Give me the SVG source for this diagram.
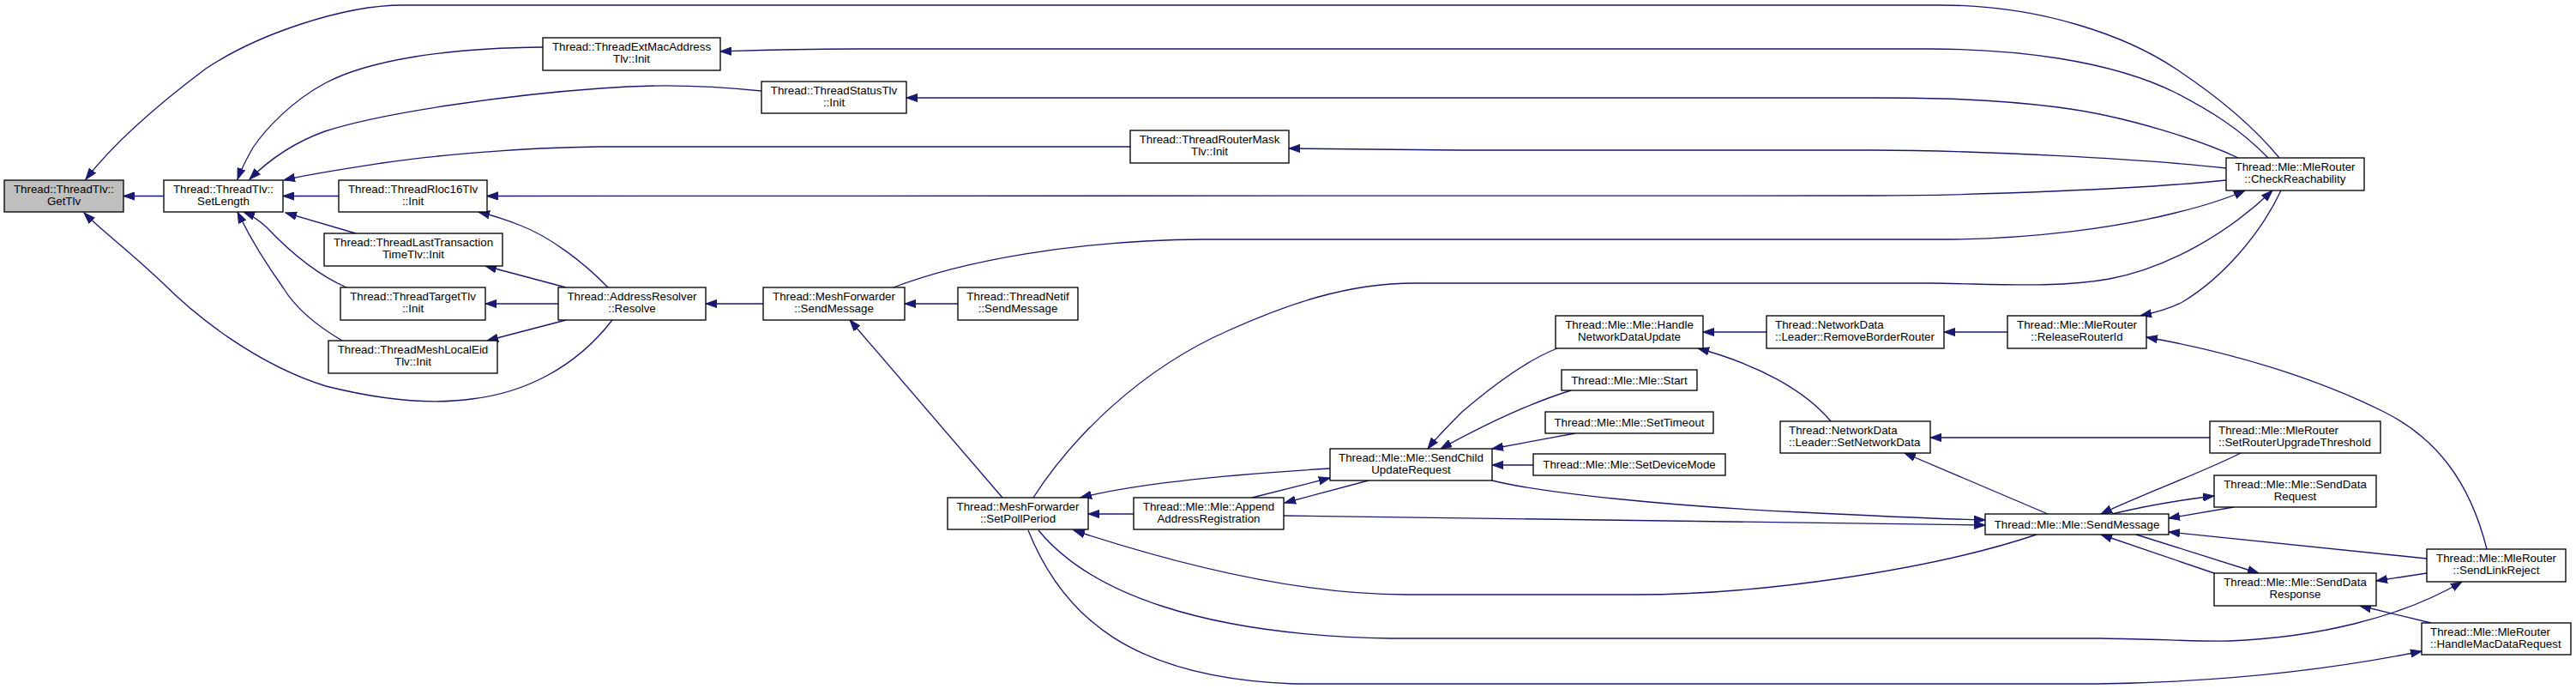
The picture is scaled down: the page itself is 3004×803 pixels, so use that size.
<svg xmlns="http://www.w3.org/2000/svg" width="3004" height="803" viewBox="0 0 3004 803">
<defs>
<style>
.n rect{fill:#fff;stroke:#000;stroke-width:1.33}
.n text{font-family:"Liberation Sans",Arial,Helvetica,sans-serif;font-size:13.33px;fill:#000}
.c{text-anchor:middle}
.l{text-anchor:start}
.e path{fill:none;stroke:#191970;stroke-width:1.33;marker-end:url(#a)}
</style>
<marker id="a" markerUnits="userSpaceOnUse" markerWidth="14" markerHeight="10" refX="13" refY="5" orient="auto" viewBox="0 0 14 10">
<path d="M0,0.4 L13,5 L0,9.6 z" fill="#191970" stroke="#191970" stroke-width="1"/>
</marker>
</defs>
<rect x="0" y="0" width="3004" height="803" fill="#fff"/>
<g id="edges" class="e">
<path d="M191,228.5 L144,228.5"/>
<path d="M2658,184 C2630,150 2590,115 2537,80 C2480,42 2380,6 2263,6 L470,6 C400,6 300,40 240,80 C180,125 130,170 100,209"/>
<path d="M714,373 C670,430 610,458 550,465 C500,472 440,465 380,450 C300,425 230,370 190,330 C150,292 120,270 98,248"/>
<path d="M633,55 C520,56 430,70 379,97 C340,118 310,150 295,172 C287,186 281,198 277,209"/>
<path d="M888,106 C830,100 760,98 700,103 C600,110 450,130 379,153 C340,167 310,190 291,209"/>
<path d="M1318,171 L700,171 C600,172 500,182 446,190 C400,197 360,203 331,210"/>
<path d="M395,228.5 L330,228.5"/>
<path d="M415,272 L333,248"/>
<path d="M404,335 C365,318 330,285 311,265 C300,255 292,250 284,247"/>
<path d="M399,397 C370,380 345,360 330,335 C305,300 288,270 277,247"/>
<path d="M2645,184 C2610,148 2575,128 2537,108 C2460,70 2350,57 2250,57 L1000,57 C920,57 870,59 840,60"/>
<path d="M2610,184 C2570,165 2480,135 2400,125 C2320,115 2250,114 2184,114 L1057,114"/>
<path d="M2596,196 C2500,185 2300,175 2184,175 L1700,175 C1600,174 1550,173 1503,173"/>
<path d="M2596,210 C2500,220 2300,228 2184,228 L568,228.5"/>
<path d="M709,335 C680,305 640,275 605,262 C585,254 570,250 558,247"/>
<path d="M660,335 L566,310"/>
<path d="M651,354 L566,354"/>
<path d="M660,373 L568,397"/>
<path d="M890,354 L823,354"/>
<path d="M1117,354 L1055,354"/>
<path d="M1169,580 L991,373"/>
<path d="M1042,335 C1120,305 1250,280 1404,279 L2263,279 C2370,279 2470,265 2537,248 C2570,240 2600,230 2618,222"/>
<path d="M1205,580 C1250,510 1330,430 1433,385 C1500,355 1570,330 1650,330 L2250,330 C2330,331 2400,336 2460,325 C2530,312 2600,270 2650,222"/>
<path d="M2660,222 C2635,275 2590,325 2545,352 C2530,360 2510,365 2496,368"/>
<path d="M2900,640 C2880,560 2840,510 2780,480 C2700,440 2600,410 2503,393"/>
<path d="M2060,387 L1986,387"/>
<path d="M2341,387 L2267,387"/>
<path d="M2135,491 C2105,455 2050,425 1980,406"/>
<path d="M1816,406 C1780,420 1740,450 1705,480 C1690,495 1675,510 1665,523"/>
<path d="M1832,455 C1790,468 1740,490 1680,523"/>
<path d="M1837,505 L1740,523"/>
<path d="M1788,542 L1740,542"/>
<path d="M1551,546 C1450,552 1330,562 1260,580"/>
<path d="M1460,580 L1551,557"/>
<path d="M1596,560 L1498,586"/>
<path d="M1322,599 L1269,599"/>
<path d="M1740,560 C1800,575 1950,590 2100,597 C2200,602 2270,605 2315,606"/>
<path d="M1497,601 C1700,606 2000,610 2315,612"/>
<path d="M2375,623 C2250,665 2050,693 1908,693 L1640,693 C1520,693 1380,660 1252,618"/>
<path d="M2388,599 L2221,528"/>
<path d="M2577,510 L2251,510"/>
<path d="M2613,528 C2570,550 2500,575 2450,599"/>
<path d="M2463,599 C2500,590 2540,583 2582,578"/>
<path d="M2605,591 L2529,604"/>
<path d="M2830,651 L2529,620"/>
<path d="M2491,623 L2634,668"/>
<path d="M2582,668 L2450,623"/>
<path d="M2830,668 L2771,677"/>
<path d="M2835,726 L2752,706"/>
<path d="M1211,618 C1270,690 1400,740 1621,744 L2450,744 C2520,745 2570,748 2600,747 C2700,743 2800,720 2871,678"/>
<path d="M1199,618 C1240,720 1320,790 1509,797 L2445,797 C2600,795 2720,780 2824,759"/>
</g>
<g id="n_gettlv" class="n"><rect x="5" y="210" width="139" height="37" style="fill:#bfbfbf"/><text class="c" x="74.5" y="224.5">Thread::ThreadTlv::</text><text class="c" x="74.5" y="239">GetTlv</text></g>
<g id="n_setlength" class="n"><rect x="191" y="210" width="139" height="37"/><text class="c" x="260.5" y="224.5">Thread::ThreadTlv::</text><text class="c" x="260.5" y="239">SetLength</text></g>
<g id="n_extmac" class="n"><rect x="633" y="44" width="207" height="38"/><text class="c" x="736.5" y="58.5">Thread::ThreadExtMacAddress</text><text class="c" x="736.5" y="73">Tlv::Init</text></g>
<g id="n_status" class="n"><rect x="888" y="95" width="169" height="37"/><text class="c" x="972.5" y="109.5">Thread::ThreadStatusTlv</text><text class="c" x="972.5" y="124">::Init</text></g>
<g id="n_routermask" class="n"><rect x="1318" y="152" width="185" height="38"/><text class="c" x="1410.5" y="166.5">Thread::ThreadRouterMask</text><text class="c" x="1410.5" y="181">Tlv::Init</text></g>
<g id="n_rloc16" class="n"><rect x="395" y="210" width="173" height="37"/><text class="c" x="481.5" y="224.5">Thread::ThreadRloc16Tlv</text><text class="c" x="481.5" y="239">::Init</text></g>
<g id="n_lasttx" class="n"><rect x="378" y="272" width="208" height="38"/><text class="c" x="482" y="286.5">Thread::ThreadLastTransaction</text><text class="c" x="482" y="301">TimeTlv::Init</text></g>
<g id="n_target" class="n"><rect x="397" y="335" width="169" height="38"/><text class="c" x="481.5" y="349.5">Thread::ThreadTargetTlv</text><text class="c" x="481.5" y="364">::Init</text></g>
<g id="n_meshlocal" class="n"><rect x="383" y="397" width="197" height="38"/><text class="c" x="481.5" y="411.5">Thread::ThreadMeshLocalEid</text><text class="c" x="481.5" y="426">Tlv::Init</text></g>
<g id="n_resolve" class="n"><rect x="651" y="335" width="172" height="38"/><text class="c" x="737" y="349.5">Thread::AddressResolver</text><text class="c" x="737" y="364">::Resolve</text></g>
<g id="n_mfsend" class="n"><rect x="890" y="335" width="165" height="38"/><text class="c" x="972.5" y="349.5">Thread::MeshForwarder</text><text class="c" x="972.5" y="364">::SendMessage</text></g>
<g id="n_netif" class="n"><rect x="1117" y="335" width="140" height="38"/><text class="c" x="1187" y="349.5">Thread::ThreadNetif</text><text class="c" x="1187" y="364">::SendMessage</text></g>
<g id="n_checkreach" class="n"><rect x="2596" y="184" width="161" height="38"/><text class="c" x="2676.5" y="198.5">Thread::Mle::MleRouter</text><text class="c" x="2676.5" y="213">::CheckReachability</text></g>
<g id="n_hndu" class="n"><rect x="1814" y="368" width="172" height="38"/><text class="c" x="1900" y="382.5">Thread::Mle::Mle::Handle</text><text class="c" x="1900" y="397">NetworkDataUpdate</text></g>
<g id="n_rbr" class="n"><rect x="2060" y="368" width="207" height="38"/><text class="l" x="2070" y="382.5">Thread::NetworkData</text><text class="l" x="2070" y="397">::Leader::RemoveBorderRouter</text></g>
<g id="n_rri" class="n"><rect x="2341" y="368" width="162" height="38"/><text class="c" x="2422" y="382.5">Thread::Mle::MleRouter</text><text class="c" x="2422" y="397">::ReleaseRouterId</text></g>
<g id="n_start" class="n"><rect x="1821" y="431" width="158" height="24"/><text class="c" x="1900" y="448">Thread::Mle::Mle::Start</text></g>
<g id="n_settimeout" class="n"><rect x="1802" y="480" width="196" height="25"/><text class="c" x="1900" y="497">Thread::Mle::Mle::SetTimeout</text></g>
<g id="n_setdevmode" class="n"><rect x="1788" y="529" width="224" height="25"/><text class="c" x="1900" y="546">Thread::Mle::Mle::SetDeviceMode</text></g>
<g id="n_scur" class="n"><rect x="1551" y="523" width="189" height="37"/><text class="c" x="1645.5" y="537.5">Thread::Mle::Mle::SendChild</text><text class="c" x="1645.5" y="552">UpdateRequest</text></g>
<g id="n_setnetdata" class="n"><rect x="2076" y="491" width="175" height="37"/><text class="l" x="2086" y="505.5">Thread::NetworkData</text><text class="l" x="2086" y="520">::Leader::SetNetworkData</text></g>
<g id="n_srut" class="n"><rect x="2577" y="491" width="199" height="37"/><text class="l" x="2587" y="505.5">Thread::Mle::MleRouter</text><text class="l" x="2587" y="520">::SetRouterUpgradeThreshold</text></g>
<g id="n_sdreq" class="n"><rect x="2582" y="554" width="189" height="37"/><text class="c" x="2676.5" y="568.5">Thread::Mle::Mle::SendData</text><text class="c" x="2676.5" y="583">Request</text></g>
<g id="n_mlesend" class="n"><rect x="2315" y="599" width="214" height="24"/><text class="c" x="2422" y="616">Thread::Mle::Mle::SendMessage</text></g>
<g id="n_slr" class="n"><rect x="2830" y="640" width="162" height="38"/><text class="c" x="2911" y="654.5">Thread::Mle::MleRouter</text><text class="c" x="2911" y="669">::SendLinkReject</text></g>
<g id="n_sdresp" class="n"><rect x="2582" y="668" width="189" height="38"/><text class="c" x="2676.5" y="682.5">Thread::Mle::Mle::SendData</text><text class="c" x="2676.5" y="697">Response</text></g>
<g id="n_hmdr" class="n"><rect x="2824" y="726" width="174" height="37"/><text class="l" x="2834" y="740.5">Thread::Mle::MleRouter</text><text class="l" x="2834" y="755">::HandleMacDataRequest</text></g>
<g id="n_spp" class="n"><rect x="1105" y="580" width="164" height="37"/><text class="c" x="1187" y="594.5">Thread::MeshForwarder</text><text class="c" x="1187" y="609">::SetPollPeriod</text></g>
<g id="n_append" class="n"><rect x="1322" y="580" width="175" height="37"/><text class="c" x="1409.5" y="594.5">Thread::Mle::Mle::Append</text><text class="c" x="1409.5" y="609">AddressRegistration</text></g>
</svg>
